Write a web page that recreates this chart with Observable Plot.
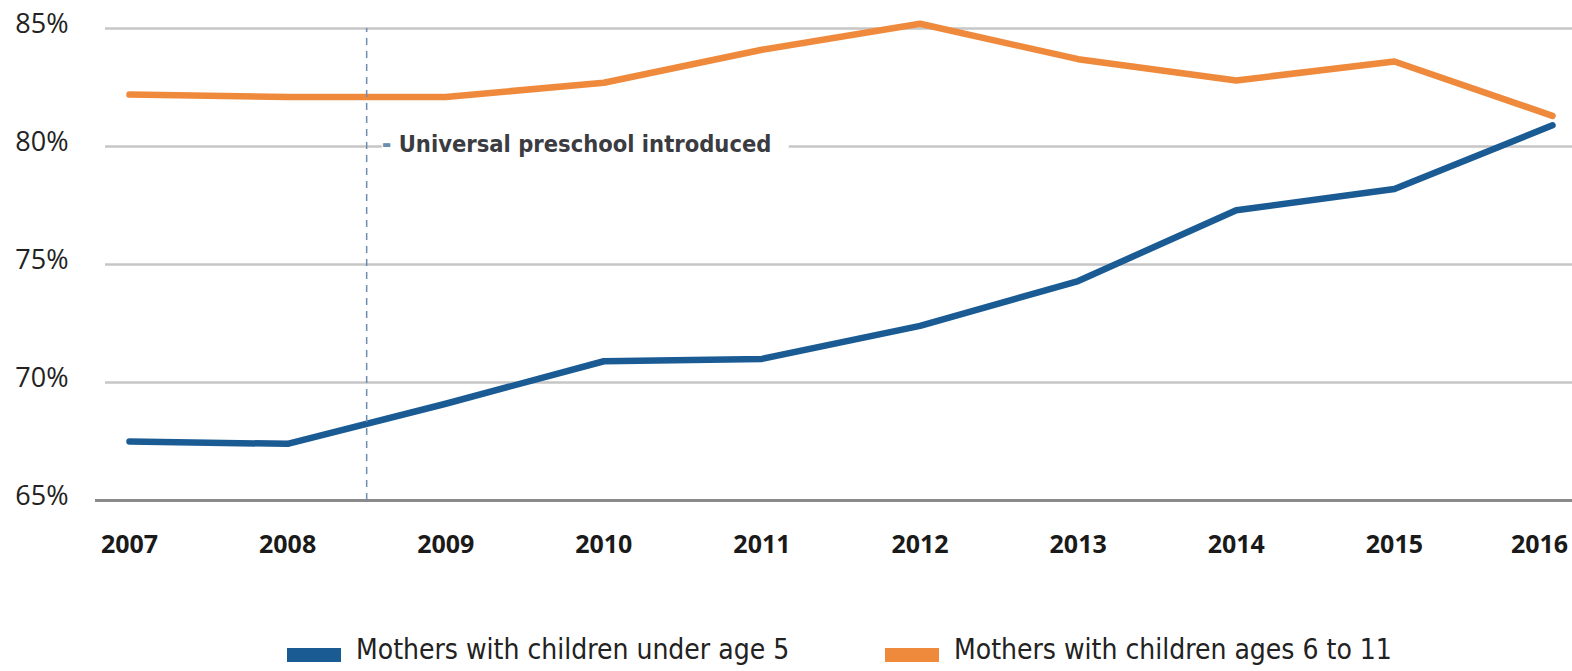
<!DOCTYPE html>
<html>
<head>
<meta charset="utf-8">
<script src="https://cdn.jsdelivr.net/npm/d3@7"></script>
<script src="https://cdn.jsdelivr.net/npm/@observablehq/plot@0.6"></script>
<style>
  body { margin: 0; background: #fff; }
  #wrap { width: 1572px; }
  .legend { position: relative; height: 71px; font-family: "DejaVu Sans Condensed", sans-serif; font-size: 28px; color: #222; }
  .legend .item { position: absolute; top: 36px; display: flex; align-items: flex-start; line-height: 1; white-space: nowrap; }
  .legend .swatch { width: 54px; height: 14px; margin-top: 12px; margin-right: 15px; }
</style>
</head>
<body>
<div id="wrap"></div>
<script>
// Labour force participation of mothers, by age of youngest child (%)
const years = [2007, 2008, 2009, 2010, 2011, 2012, 2013, 2014, 2015, 2016];
const under5 = [67.5, 67.4, 69.1, 70.9, 71.0, 72.4, 74.3, 77.3, 78.2, 80.9];
const ages6to11 = [82.2, 82.1, 82.1, 82.7, 84.1, 85.2, 83.7, 82.8, 83.6, 81.3];
const seriesNames = ["Mothers with children under age 5", "Mothers with children ages 6 to 11"];
const seriesColors = ["#1b5b94", "#ef8a3d"];
const yTicks = [65, 70, 75, 80, 85];
const annotationYear = 2008.5;
const annotationLevel = 80;
const annotationText = "Universal preschool introduced";

const rows = years.flatMap((year, i) => [
  {year, value: under5[i], series: seriesNames[0]},
  {year, value: ages6to11[i], series: seriesNames[1]}
]);

const condensed = "'DejaVu Sans Condensed', sans-serif";
const axisXStyle = {label: null, tickSize: 0, tickPadding: 35, tickFormat: d => String(d), fontSize: 25, fontWeight: 700, fontFamily: "'Open Sans', sans-serif", fill: "#1a1a1a"};

const chart = Plot.plot({
  width: 1572,
  height: 600,
  marginTop: 28,
  marginBottom: 100,
  marginLeft: 129,
  marginRight: 20,
  x: {domain: [2007, 2016], axis: null},
  y: {domain: [65, 85], axis: null},
  color: {domain: seriesNames, range: seriesColors},
  marks: [
    Plot.ruleY(yTicks.filter(d => d > 65), {stroke: "#c6c6c6", strokeWidth: 2.5, insetLeft: -24, insetRight: -20}),
    Plot.ruleY([65], {stroke: "#8a8a8a", strokeWidth: 3, insetLeft: -34, insetRight: -20}),
    Plot.axisY({label: null, ticks: yTicks, tickSize: 0, tickPadding: 61, tickFormat: d => d + "%", fontSize: 27, fontFamily: "'Open Sans', sans-serif", fill: "#222", dy: -4}),
    Plot.axisX({...axisXStyle, ticks: years.slice(0, -1)}),
    Plot.axisX({...axisXStyle, ticks: years.slice(-1), dx: -13}),
    Plot.line(rows, {x: "year", y: "value", stroke: "series", strokeWidth: 6.5, strokeLinejoin: "round", strokeLinecap: "round"}),
    Plot.text([annotationText], {x: () => annotationYear, y: () => annotationLevel, text: d => d, textAnchor: "start", dx: 32, dy: -2,
      fill: "#3b3b42", stroke: "white", strokeWidth: 38, fontSize: 23.5, fontWeight: 700, fontFamily: condensed}),
    Plot.text(["-"], {x: () => annotationYear, y: () => annotationLevel, text: d => d, textAnchor: "start", dx: 15, dy: -2,
      fill: "#6d8db0", fontSize: 26, fontWeight: 700, fontFamily: condensed}),
    Plot.ruleX([annotationYear], {y1: 65, y2: 85, stroke: "#6d8db0", strokeWidth: 1.5, strokeDasharray: "7,6"})
  ]
});

const wrap = document.getElementById("wrap");
wrap.appendChild(chart);

// Legend below the plot
const legend = document.createElement("div");
legend.className = "legend";
const legendLeft = [287, 885];
seriesNames.forEach((name, i) => {
  const item = document.createElement("div");
  item.className = "item";
  item.style.left = legendLeft[i] + "px";
  const sw = document.createElement("span");
  sw.className = "swatch";
  sw.style.background = seriesColors[i];
  const label = document.createElement("span");
  label.textContent = name;
  item.appendChild(sw);
  item.appendChild(label);
  legend.appendChild(item);
});
wrap.appendChild(legend);
</script>
</body>
</html>
